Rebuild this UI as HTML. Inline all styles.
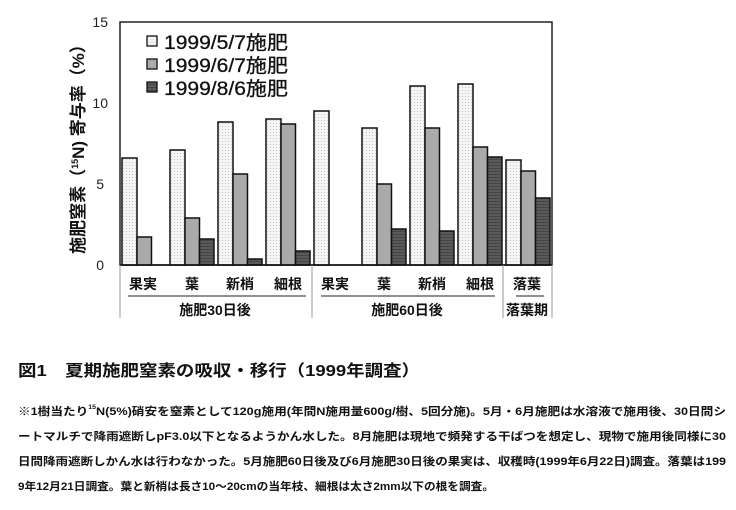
<!DOCTYPE html>
<html><head><meta charset="utf-8"><style>
body{margin:0;background:#fff;}
svg text{font-family:"Liberation Sans","Noto Sans CJK JP",sans-serif;}
</style></head><body>
<svg width="736" height="505" xmlns="http://www.w3.org/2000/svg">
<defs>
<pattern id="dots" width="3" height="3" patternUnits="userSpaceOnUse"><rect width="3" height="3" fill="#f4f4f4"/><rect width="1" height="1" fill="#c8c8c8"/></pattern>
<pattern id="dk" width="3" height="3" patternUnits="userSpaceOnUse"><rect width="3" height="3" fill="#5a5a5a"/><rect width="3" height="1" fill="#444"/></pattern>
</defs>
<rect x="120" y="22" width="432" height="243" fill="none" stroke="#222" stroke-width="1.5"/>
<g font-size="14" fill="#222" text-anchor="end">
<text x="108" y="27">15</text><text x="108" y="108">10</text><text x="104" y="189">5</text><text x="104" y="270">0</text>
</g>
<text transform="translate(84,145) rotate(-90)" font-size="17" text-anchor="middle" fill="#111" font-weight="bold">施肥窒素（<tspan font-size="9" dy="-6">15</tspan><tspan dy="6">N) 寄与率（%）</tspan></text>
<g stroke="#111" stroke-width="1.5">
<rect x="122" y="158" width="15" height="107" fill="url(#dots)"/>
<rect x="137" y="237" width="14.5" height="28" fill="#aaa"/>
<rect x="170" y="150" width="15" height="115" fill="url(#dots)"/>
<rect x="185" y="218" width="14.5" height="47" fill="#aaa"/>
<rect x="199.5" y="239" width="14.5" height="26" fill="url(#dk)"/>
<rect x="218" y="122" width="15" height="143" fill="url(#dots)"/>
<rect x="233" y="174" width="14.5" height="91" fill="#aaa"/>
<rect x="247.5" y="259" width="14.5" height="6" fill="url(#dk)"/>
<rect x="266" y="119" width="15" height="146" fill="url(#dots)"/>
<rect x="281" y="124" width="14.5" height="141" fill="#aaa"/>
<rect x="295.5" y="251" width="14.5" height="14" fill="url(#dk)"/>
<rect x="314" y="111" width="15" height="154" fill="url(#dots)"/>
<rect x="362" y="128" width="15" height="137" fill="url(#dots)"/>
<rect x="377" y="184" width="14.5" height="81" fill="#aaa"/>
<rect x="391.5" y="229" width="14.5" height="36" fill="url(#dk)"/>
<rect x="410" y="86" width="15" height="179" fill="url(#dots)"/>
<rect x="425" y="128" width="14.5" height="137" fill="#aaa"/>
<rect x="439.5" y="231" width="14.5" height="34" fill="url(#dk)"/>
<rect x="458" y="84" width="15" height="181" fill="url(#dots)"/>
<rect x="473" y="147" width="14.5" height="118" fill="#aaa"/>
<rect x="487.5" y="157" width="14.5" height="108" fill="url(#dk)"/>
<rect x="506" y="160" width="15" height="105" fill="url(#dots)"/>
<rect x="521" y="171" width="14.5" height="94" fill="#aaa"/>
<rect x="535.5" y="198" width="14.5" height="67" fill="url(#dk)"/>
</g>
<line x1="120" y1="265" x2="552" y2="265" stroke="#111" stroke-width="1.5"/>
<g stroke="#111" stroke-width="1.3">
<rect x="147" y="36" width="10" height="10" fill="url(#dots)"/>
<rect x="147" y="59" width="10" height="10" fill="#aaa"/>
<rect x="147" y="82" width="10" height="10" fill="url(#dk)"/>
</g>
<g font-size="19" fill="#111" stroke="#111" stroke-width="0.3">
<text x="164" y="49" textLength="124" lengthAdjust="spacingAndGlyphs">1999/5/7施肥</text>
<text x="164" y="72" textLength="124" lengthAdjust="spacingAndGlyphs">1999/6/7施肥</text>
<text x="164" y="95" textLength="124" lengthAdjust="spacingAndGlyphs">1999/8/6施肥</text>
</g>
<g stroke="#999" stroke-width="1">
<line x1="120" y1="265" x2="120" y2="318"/><line x1="312" y1="265" x2="312" y2="318"/>
<line x1="503" y1="265" x2="503" y2="318"/><line x1="552" y1="265" x2="552" y2="318"/>
</g>
<g stroke="#222" stroke-width="1">
<line x1="128" y1="296" x2="306" y2="296"/><line x1="321" y1="296" x2="495" y2="296"/><line x1="516" y1="296" x2="544" y2="296"/>
</g>
<g font-size="14" fill="#111" text-anchor="middle" font-weight="bold">
<text x="143" y="289">果実</text><text x="192" y="289">葉</text><text x="240" y="289">新梢</text><text x="288" y="289">細根</text>
<text x="335" y="289">果実</text><text x="384" y="289">葉</text><text x="432" y="289">新梢</text><text x="480" y="289">細根</text>
<text x="527" y="289">落葉</text>
<text x="215" y="315">施肥30日後</text><text x="407" y="315">施肥60日後</text><text x="527" y="315">落葉期</text>
</g>
<text x="18" y="376" font-size="16" font-weight="bold" fill="#111" textLength="402" lengthAdjust="spacingAndGlyphs">図1　夏期施肥窒素の吸収・移行（1999年調査）</text>
<g font-size="11" font-weight="bold" fill="#111">
<text x="18" y="415" textLength="708" lengthAdjust="spacingAndGlyphs">※1樹当たり<tspan font-size="6" dy="-6">15</tspan><tspan dy="6">N(5%)硝安を窒素として120g施用(年間N施用量600g/樹、5回分施)。5月・6月施肥は水溶液で施用後、30日間シ</tspan></text>
<text x="18" y="440" textLength="708" lengthAdjust="spacingAndGlyphs">ートマルチで降雨遮断しpF3.0以下となるようかん水した。8月施肥は現地で頻発する干ばつを想定し、現物で施用後同様に30</text>
<text x="18" y="465" textLength="708" lengthAdjust="spacingAndGlyphs">日間降雨遮断しかん水は行わなかった。5月施肥60日後及び6月施肥30日後の果実は、収穫時(1999年6月22日)調査。落葉は199</text>
<text x="18" y="490" textLength="476" lengthAdjust="spacingAndGlyphs">9年12月21日調査。葉と新梢は長さ10～20cmの当年枝、細根は太さ2mm以下の根を調査。</text>
</g>
</svg>
</body></html>
